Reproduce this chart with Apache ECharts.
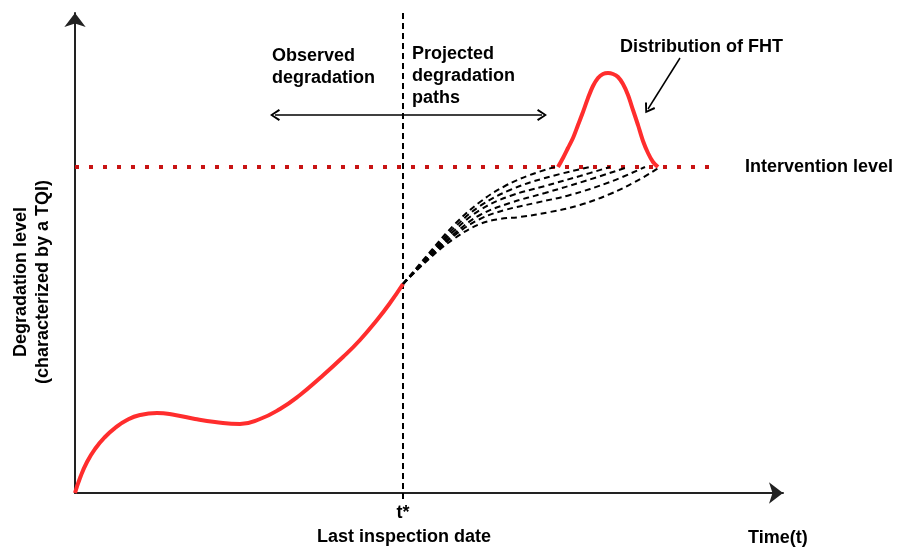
<!DOCTYPE html>
<html>
<head>
<meta charset="utf-8">
<script src="https://cdn.jsdelivr.net/npm/echarts@6/dist/echarts.min.js"></script>
<style>html,body{margin:0;padding:0;background:#fff;}#c{width:900px;height:549px;}</style>
</head>
<body>
<div id="c"></div>
<script>
// ---- data (time, degradation level) in arbitrary units ----
const observed = [[0,0],[5,15],[12,31],[20,44],[30,56],[40,65],[52,73],[65,78],[82,80],[100,78],[120,74],[140,71],[165,69],[185,74],[205,84],[225,98],[245,115],[268,136],[285,153],[302,173],[315,190],[328,209]];
const path1 = [[328,209],[355,241],[380,269],[405,291],[430,307],[455,318],[483,327]];
const path2 = [[328,209],[355,239],[380,266],[405,287],[435,303],[470,315],[515,326]];
const path3 = [[328,209],[355,238],[380,263],[405,283],[435,297],[470,307],[505,317],[535,326]];
const path4 = [[328,209],[355,237],[380,260],[405,278],[435,290],[470,300],[510,312],[553,326]];
const path5 = [[328,209],[355,236],[380,258],[405,274],[430,283],[460,290],[495,298],[535,311],[570,326]];
const path6 = [[328,209],[355,235],[380,255],[405,269],[425,274],[445,276],[475,281],[505,288],[535,299],[560,311],[585,326]];
const fhtDist = [[483,326],[488,335],[493,345],[498,355],[503,368],[508,381],[513,395],[518,407],[523,415],[528,419],[533,420],[538,419],[543,416],[548,409],[553,398],[558,383],[563,368],[568,352],[573,340],[578,331],[583,326]];
const interventionLevel = 326;
const interventionEnd = 637;
const tStar = 328;
const tStarLine = [[tStar,-6],[tStar,483]];
const spanArrow = [[200,378],[467,378]];
const fhtArrow = [[605,435],[573,384]];

const chevron = 'path://M5,0L10,8L8.6,9L5,2.8L1.4,9L0,8Z';
const font = 'bold 18px "Liberation Sans", Arial, Helvetica, sans-serif';

const chart = echarts.init(document.getElementById('c'), null, {renderer:'canvas'});
const dashed = {color:'#000', width:2, type:[6,4]};
function proj(d){return {type:'line', data:d, smooth:0.4, showSymbol:false, silent:true, lineStyle:dashed, z:3};}

chart.setOption({
  animation:false,
  grid:{left:75, right:117, top:13, bottom:56},
  xAxis:{type:'value', min:0, max:708, axisTick:{show:false}, axisLabel:{show:false}, splitLine:{show:false},
    axisLine:{onZero:false, lineStyle:{color:'#222', width:2}, symbol:['none','arrow'], symbolSize:[16,14]}},
  yAxis:{type:'value', min:0, max:480, axisTick:{show:false}, axisLabel:{show:false}, splitLine:{show:false},
    axisLine:{onZero:false, lineStyle:{color:'#222', width:2}, symbol:['none','arrow'], symbolSize:[16,14]}},
  series:[
    {type:'line', data:[[0,interventionLevel],[interventionEnd,interventionLevel]], showSymbol:false, silent:true,
      lineStyle:{color:'#c81414', width:4, type:[4,10], cap:'butt'}, z:2},
    {type:'line', data:tStarLine, showSymbol:false, silent:true, clip:false, lineStyle:dashed, z:2},
    proj(path1), proj(path2), proj(path3), proj(path4), proj(path5), proj(path6),
    {type:'line', data:observed, smooth:0.5, showSymbol:false, silent:true, lineStyle:{color:'#ff2d2d', width:4}, z:4},
    {type:'line', data:fhtDist, smooth:0.3, showSymbol:false, silent:true, lineStyle:{color:'#ff2d2d', width:4}, z:4},
    {type:'line', data:[], silent:true,
      markLine:{silent:true, symbol:[chevron,chevron], symbolSize:[12,10], label:{show:false},
        lineStyle:{color:'#000', width:1.5, type:'solid'},
        data:[[{coord:spanArrow[0]},{coord:spanArrow[1]}]]}},
    {type:'line', data:[], silent:true,
      markLine:{silent:true, symbol:['none',chevron], symbolSize:[12,10], label:{show:false},
        lineStyle:{color:'#000', width:1.5, type:'solid'},
        data:[[{coord:fhtArrow[0]},{coord:fhtArrow[1]}]]}}
  ],
  graphic:[
    {type:'text', x:272, y:45, style:{text:'Observed\ndegradation', font:font, fill:'#000', lineHeight:22, textAlign:'left', textVerticalAlign:'top'}},
    {type:'text', x:412, y:43, style:{text:'Projected\ndegradation\npaths', font:font, fill:'#000', lineHeight:22, textAlign:'left', textVerticalAlign:'top'}},
    {type:'text', x:620, y:47, style:{text:'Distribution of FHT', font:font, fill:'#000', textAlign:'left', textVerticalAlign:'middle'}},
    {type:'text', x:745, y:167, style:{text:'Intervention level', font:font, fill:'#000', textAlign:'left', textVerticalAlign:'middle'}},
    {type:'text', x:403, y:513, style:{text:'t*', font:font, fill:'#000', textAlign:'center', textVerticalAlign:'middle'}},
    {type:'text', x:404, y:537, style:{text:'Last inspection date', font:font, fill:'#000', textAlign:'center', textVerticalAlign:'middle'}},
    {type:'text', x:748, y:538, style:{text:'Time(t)', font:font, fill:'#000', textAlign:'left', textVerticalAlign:'middle'}},
    {type:'text', x:21, y:282, rotation:Math.PI/2, style:{text:'Degradation level', font:font, fill:'#000', textAlign:'center', textVerticalAlign:'middle'}},
    {type:'text', x:43, y:282, rotation:Math.PI/2, style:{text:'(characterized by a TQI)', font:font, fill:'#000', textAlign:'center', textVerticalAlign:'middle'}}
  ]
});
</script>
</body>
</html>
